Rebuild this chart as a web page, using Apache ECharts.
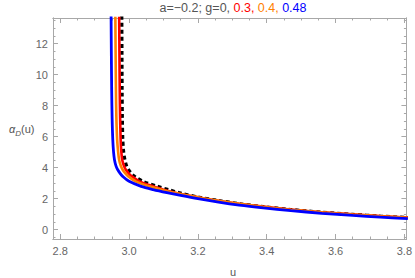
<!DOCTYPE html>
<html><head><meta charset="utf-8">
<script src="https://cdn.jsdelivr.net/npm/echarts@6/dist/echarts.min.js"></script>
<style>html,body{margin:0;padding:0;background:#fff}#c{width:415px;height:278px}</style>
</head><body><div id="c"></div>
<script>
// g = 0 (black dashed)
const uG0 = [2.9789,2.9793,2.9798,2.9805,2.9818,2.9844,2.9879,2.9928,2.9985,3.0066,3.0162,3.0403,3.0826,3.1150,3.1500,3.2000,3.2600,3.3200,3.3900,3.4700,3.5600,3.6500,3.7300,3.8100];
const vG0 = [13.8,11.5,9.0,7.2,5.81,5.0,4.52,4.12,3.87,3.64,3.44,3.12,2.80,2.58,2.36,2.11,1.88,1.68,1.49,1.30,1.13,0.99,0.88,0.78];
// g = 0.3 (red)
const uG03 = [2.9713,2.9720,2.9729,2.9741,2.9756,2.9776,2.9801,2.9851,2.9907,2.9988,3.0081,3.0303,3.0696,3.1000,3.1500,3.2000,3.2600,3.3200,3.3900,3.4700,3.5600,3.6500,3.7300,3.8100];
const vG03 = [13.8,11.5,9.0,7.2,5.81,5.0,4.52,4.12,3.87,3.64,3.44,3.12,2.80,2.58,2.31,2.10,1.87,1.68,1.49,1.30,1.13,0.99,0.88,0.78];
// g = 0.4 (orange)
const uG04 = [2.9602,2.9609,2.9619,2.9632,2.9654,2.9683,2.9711,2.9761,2.9815,2.9893,2.9980,3.0193,3.0589,3.1000,3.1500,3.2000,3.2600,3.3200,3.3900,3.4700,3.5600,3.6500,3.7300,3.8100];
const vG04 = [13.8,11.5,9.0,7.2,5.81,5.0,4.52,4.12,3.87,3.64,3.44,3.12,2.80,2.55,2.30,2.09,1.86,1.67,1.48,1.29,1.12,0.98,0.87,0.77];
// g = 0.48 (blue)
const uG048 = [2.9478,2.9485,2.9495,2.9508,2.9527,2.9550,2.9576,2.9620,2.9671,2.9740,2.9816,3.0000,3.0350,3.0700,3.1100,3.1500,3.2000,3.2600,3.3200,3.3900,3.4700,3.5600,3.6500,3.7300,3.8100];
const vG048 = [13.8,11.5,9.0,7.2,5.81,5.0,4.52,4.12,3.87,3.64,3.44,3.12,2.80,2.59,2.39,2.21,2.00,1.78,1.59,1.41,1.23,1.06,0.92,0.81,0.71];

const xTicks = [2.8,3.0,3.2,3.4,3.6,3.8];
const xMinor = [2.85,2.9,2.95,3.05,3.1,3.15,3.25,3.3,3.35,3.45,3.5,3.55,3.65,3.7,3.75];
const yTicks = [0,2,4,6,8,10,12];
const yMinor = [-0.5,0.5,1,1.5,2.5,3,3.5,4.5,5,5.5,6.5,7,7.5,8.5,9,9.5,10.5,11,11.5,12.5,13,13.5];

const XMIN = 2.779, XMAX = 3.806, YMIN = -0.6, YMAX = 13.66;
const axisCol = '#a8a8a8', labCol = '#666';

function xAx(pos, ticks, len, labels) {
  return {type:'value', min:XMIN, max:XMAX, position:pos,
    axisLine:{show:true, onZero:false, lineStyle:{color:axisCol, width:1}},
    axisTick:{show:true, inside:true, length:len, customValues:ticks, lineStyle:{color:axisCol}},
    axisLabel:{show:labels, customValues:xTicks, formatter:v=>v.toFixed(1), color:labCol, fontSize:11, margin:6, fontFamily:'Liberation Sans'},
    splitLine:{show:false}};
}
function yAx(pos, ticks, len, labels) {
  return {type:'value', min:YMIN, max:YMAX, position:pos,
    axisLine:{show:true, onZero:false, lineStyle:{color:axisCol, width:1}},
    axisTick:{show:true, inside:true, length:len, customValues:ticks, lineStyle:{color:axisCol}},
    axisLabel:{show:labels, customValues:yTicks, formatter:v=>String(v), color:labCol, fontSize:11, margin:5, fontFamily:'Liberation Sans'},
    splitLine:{show:false}};
}
const pts = (u,v)=>u.map((x,i)=>[x,v[i]]);
function line(u,v,color,w,dash){
  return {type:'line', xAxisIndex:0, yAxisIndex:0, data:pts(u,v), showSymbol:false, smooth:0.3,
    lineStyle:{color:color, width:w, type:dash?[4,3]:'solid'}, animation:false, silent:true};
}
const chart = echarts.init(document.getElementById('c'), null, {renderer:'svg'});
chart.setOption({
  animation:false,
  grid:{left:53, right:6, top:18, bottom:39, containLabel:false},
  xAxis:[xAx('bottom',xTicks,5,true), xAx('bottom',xMinor,2.5,false), xAx('top',xTicks,5,false), xAx('top',xMinor,2.5,false)],
  yAxis:[yAx('left',yTicks,5,true), yAx('left',yMinor,2.5,false), yAx('right',yTicks,5,false), yAx('right',yMinor,2.5,false)],
  series:[
    line(uG0,vG0,'#000000',3.2,true),
    line(uG03,vG03,'#ff0000',2.6,false),
    line(uG04,vG04,'#ff8000',2.6,false),
    line(uG048,vG048,'#0000ff',2.8,false)
  ],
  graphic:[
    {type:'text', x:233, y:8, style:{text:'{g|a=−0.2; g=0, }{r|0.3, }{o|0.4, }{b|0.48}', align:'center', verticalAlign:'middle',
      rich:{g:{fill:'#555',fontSize:12.5,fontFamily:'Liberation Sans'}, r:{fill:'#ff0000',fontSize:12.5,fontFamily:'Liberation Sans'},
            o:{fill:'#ff8000',fontSize:12.5,fontFamily:'Liberation Sans'}, b:{fill:'#0000ff',fontSize:12.5,fontFamily:'Liberation Sans'}}}},
    {type:'text', x:9, y:127, style:{text:'{a|α}{s|D}{n|(u)}', align:'left', verticalAlign:'middle',
      rich:{a:{fill:'#555',fontSize:11,fontStyle:'italic',fontFamily:'Liberation Sans',lineHeight:14,verticalAlign:'bottom'},
            s:{fill:'#555',fontSize:8,fontStyle:'italic',fontFamily:'Liberation Sans',lineHeight:14,verticalAlign:'bottom',padding:[0,0,-3,0]},
            n:{fill:'#555',fontSize:11,fontFamily:'Liberation Sans',lineHeight:14,verticalAlign:'bottom'}}}},
    {type:'text', x:233, y:272, style:{text:'u', align:'center', verticalAlign:'middle', fill:'#555', fontSize:11, fontFamily:'Liberation Sans'}}
  ]
});
</script>
</body></html>
